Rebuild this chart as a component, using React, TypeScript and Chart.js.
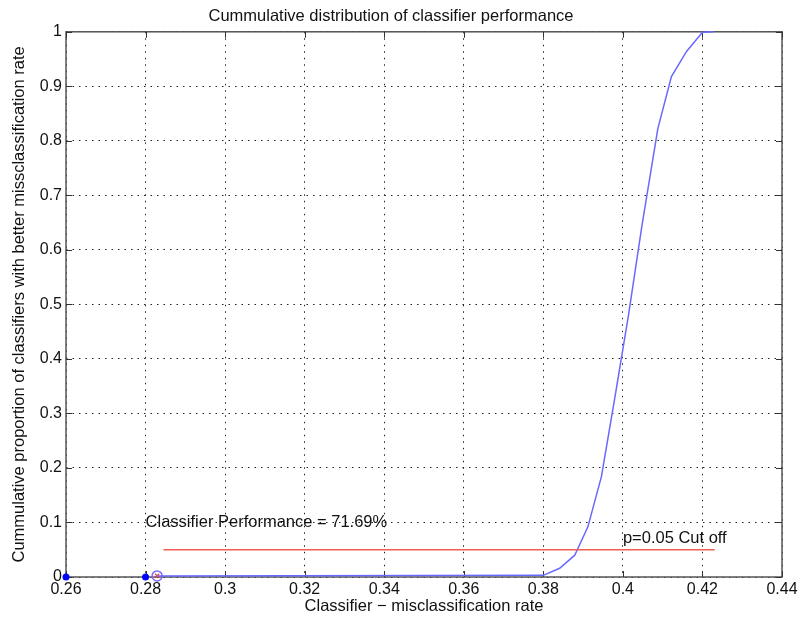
import React, { useEffect, useRef } from "react";
import { Chart, registerables } from "chart.js";

Chart.register(...registerables);

const titleText = "Cummulative distribution of classifier performance";
const xTitle = "Classifier \u2212 misclassification rate";
const yTitle = "Cummulative proportion of classifiers with better missclassification rate";

const xTicks = [0.26, 0.28, 0.3, 0.32, 0.34, 0.36, 0.38, 0.4, 0.42, 0.44];
const yTicks = [0, 0.1, 0.2, 0.3, 0.4, 0.5, 0.6, 0.7, 0.8, 0.9, 1];

const curveX = [0.2829, 0.38, 0.3841, 0.3879, 0.3912, 0.3946, 0.398, 0.4014, 0.4048, 0.4088, 0.4122, 0.416, 0.42, 0.4227];
const curveY = [0.002, 0.003, 0.016, 0.04, 0.092, 0.184, 0.33, 0.48, 0.645, 0.823, 0.918, 0.964, 0.999, 1.0];

const cutoffX = [0.2845, 0.4231];
const cutoffY = [0.05, 0.05];

const dotX = [0.26, 0.28];
const dotY = [0, 0];

const classifierX = [0.2829];
const classifierY = [0.002];

const noteTexts = ["Classifier Performance = 71.69%", "p=0.05 Cut off"];
const noteX = [0.28, 0.4];
const noteY = [0.1, 0.07];

const FONT = "'Liberation Sans', Arial, Helvetica, sans-serif";
const TXT = 16.5;

const toPts = (xs: number[], ys: number[]) => xs.map((x, i) => ({ x, y: ys[i] }));

const framePlugin = {
  id: "frame",
  beforeDatasetsDraw(chart: any) {
    const { ctx, chartArea } = chart;
    const { left, right, top, bottom } = chartArea;
    const xs = chart.scales.x;
    const ys = chart.scales.y;
    ctx.save();
    ctx.strokeStyle = "#555555";
    ctx.lineWidth = 1.5;
    ctx.setLineDash([]);
    ctx.strokeRect(left, top, right - left, bottom - top);
    ctx.lineWidth = 1;
    ctx.strokeStyle = "#333333";
    const tl = 6;
    ctx.beginPath();
    xTicks.forEach((v) => {
      const p = Math.round(xs.getPixelForValue(v)) + 0.5;
      ctx.moveTo(p, bottom);
      ctx.lineTo(p, bottom - tl);
      ctx.moveTo(p, top);
      ctx.lineTo(p, top + tl);
    });
    yTicks.forEach((v) => {
      const p = Math.round(ys.getPixelForValue(v)) + 0.5;
      ctx.moveTo(left, p);
      ctx.lineTo(left + tl, p);
      ctx.moveTo(right, p);
      ctx.lineTo(right - tl, p);
    });
    ctx.stroke();
    ctx.restore();
  },
};

const notesPlugin = {
  id: "notes",
  afterDatasetsDraw(chart: any) {
    const { ctx } = chart;
    const xs = chart.scales.x;
    const ys = chart.scales.y;
    ctx.save();
    ctx.fillStyle = "#111111";
    ctx.font = `${TXT}px ${FONT}`;
    ctx.textAlign = "left";
    ctx.textBaseline = "middle";
    noteTexts.forEach((t, i) => {
      ctx.fillText(t, xs.getPixelForValue(noteX[i]), ys.getPixelForValue(noteY[i]));
    });
    ctx.restore();
  },
};

export default function App() {
  const ref = useRef<HTMLCanvasElement | null>(null);
  useEffect(() => {
    if (!ref.current) return;
    const chart = new Chart(ref.current, {
      type: "scatter",
      data: {
        datasets: [
          {
            label: "cutoff",
            data: toPts(cutoffX, cutoffY),
            showLine: true,
            borderColor: "rgb(240,95,85)",
            borderWidth: 1.5,
            pointRadius: 0,
          },
          {
            label: "curve",
            data: toPts(curveX, curveY),
            showLine: true,
            borderColor: "rgb(105,105,255)",
            borderWidth: 1.5,
            pointRadius: 0,
            tension: 0,
            clip: false,
          },
          {
            label: "dots",
            data: toPts(dotX, dotY),
            showLine: false,
            pointRadius: 3.5,
            pointBackgroundColor: "#0000ff",
            pointBorderColor: "#0000ff",
            pointBorderWidth: 0,
            clip: false,
          },
          {
            label: "classifier",
            data: toPts(classifierX, classifierY),
            showLine: false,
            pointRadius: 5,
            pointBackgroundColor: "rgba(0,0,0,0)",
            pointBorderColor: "rgb(120,110,255)",
            pointBorderWidth: 1.5,
            clip: false,
          },
          {
            label: "classifierX",
            data: toPts(classifierX, classifierY),
            showLine: false,
            pointStyle: "crossRot",
            pointRadius: 3,
            pointBorderColor: "rgb(235,60,60)",
            pointBorderWidth: 1.2,
            clip: false,
          },
        ],
      },
      options: {
        animation: false,
        responsive: false,
        layout: { padding: { left: 0, right: 19, top: 0, bottom: 0 } },
        plugins: {
          legend: { display: false },
          tooltip: { enabled: false },
          title: {
            display: true,
            text: titleText,
            color: "#111111",
            font: { family: FONT, size: TXT, weight: "normal" },
            padding: { top: 7, bottom: 5 },
          },
        },
        scales: {
          x: {
            type: "linear",
            min: 0.26,
            max: 0.44,
            afterBuildTicks: (s: any) => {
              s.ticks = xTicks.map((v) => ({ value: v }));
            },
            afterFit: (s: any) => {
              s.height = 44;
            },
            ticks: {
              color: "#111111",
              font: { family: FONT, size: 16 },
              padding: 3,
              maxRotation: 0,
              autoSkip: false,
              callback: (v: any) => String(v),
            },
            grid: { color: "#222222", lineWidth: 1, drawTicks: false },
            border: { display: false, dash: [1.5, 5] },
            title: {
              display: true,
              text: xTitle,
              color: "#111111",
              font: { family: FONT, size: TXT },
              padding: { top: 0, bottom: 5 },
            },
          },
          y: {
            type: "linear",
            min: 0,
            max: 1,
            afterBuildTicks: (s: any) => {
              s.ticks = yTicks.map((v) => ({ value: v }));
            },
            afterFit: (s: any) => {
              s.width = 66;
            },
            ticks: {
              color: "#111111",
              font: { family: FONT, size: 16 },
              padding: 4,
              autoSkip: false,
              callback: (v: any) => String(v),
            },
            grid: { color: "#222222", lineWidth: 1, drawTicks: false },
            border: { display: false, dash: [1.5, 5] },
            title: {
              display: true,
              text: yTitle,
              color: "#111111",
              font: { family: FONT, size: TXT },
              padding: { top: 10, bottom: 0 },
            },
          },
        },
      },
      plugins: [framePlugin, notesPlugin],
    });
    return () => chart.destroy();
  }, []);
  return (
    <div style={{ position: "absolute", left: 0, top: 0, width: 801, height: 621, background: "#fff" }}>
      <canvas ref={ref} width={801} height={621} />
    </div>
  );
}
